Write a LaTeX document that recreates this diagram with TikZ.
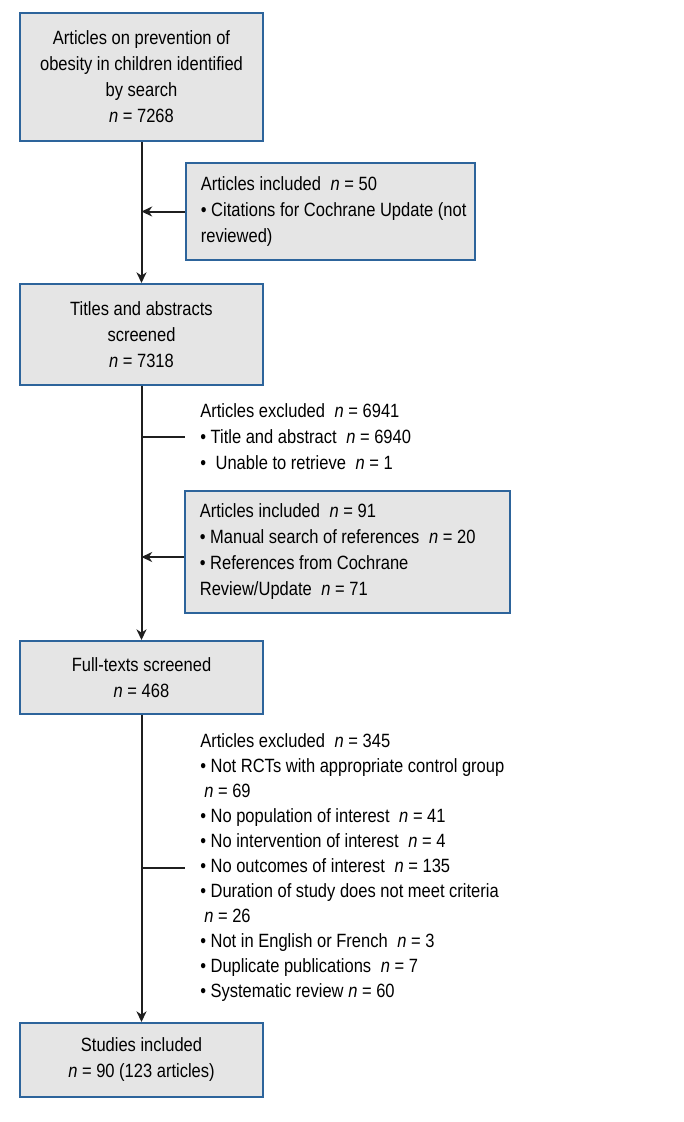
\documentclass[tikz,border=0pt]{standalone}
\usepackage{fontspec}
\setmainfont{Liberation Sans}[FakeStretch=0.86]
\usepackage{tikz}
\usetikzlibrary{arrows.meta, positioning, calc}
\definecolor{boxBlue}{RGB}{45,100,155}
\definecolor{boxGray}{gray}{0.9}
\definecolor{lineBlack}{gray}{0.12}
\newcommand{\nval}[1]{\textit{n} = #1}

\begin{document}
\begin{tikzpicture}[x=0.75pt, y=-0.75pt, >={Stealth[length=8pt, width=7.5pt, inset=2.5pt]},
    font=\fontsize{14.4}{19.5}\selectfont,
    mainbox/.style={draw=boxBlue, line width=1.5pt, fill=boxGray, minimum width=182.25pt,
        align=center, inner sep=0pt},
    sidebox/.style={draw=boxBlue, line width=1.3pt, fill=boxGray, align=flush left,
        text width=#1, inner xsep=11.25pt, inner ysep=0pt, anchor=west},
    exclnote/.style={align=flush left, inner xsep=11.25pt, inner ysep=0pt, anchor=west},
    flow/.style={line width=1.5pt, lineBlack}]
    \useasboundingbox (0,0) rectangle (684,1122);

    % Main column
    \node[mainbox, minimum height=96pt] (search) at (141.5,77)
        {Articles on prevention of\\ obesity in children identified\\ by search\\ \nval{7268}};
    \node[mainbox, minimum height=75.75pt] (titles) at (141.5,334.5)
        {Titles and abstracts\\ screened\\ \nval{7318}};
    \node[mainbox, minimum height=54.75pt] (fulltext) at (141.5,677.5)
        {Full-texts screened\\ \nval{468}};
    \node[mainbox, minimum height=55.5pt] (studies) at (141.5,1060)
        {Studies included\\ \nval{90 (123 articles)}};

    % Side boxes (included)
    \node[sidebox=194.25pt, minimum height=72.75pt] (incl1) at (185,211.5)
        {Articles included\enspace\nval{50}\\ \mbox{\textbullet{} Citations for Cochrane Update (not}\\ reviewed)};
    \node[sidebox=221.25pt, minimum height=91.5pt] (incl2) at (184,552)
        {Articles included\enspace\nval{91}\\ \textbullet{} Manual search of references\enspace\nval{20}\\
         \textbullet{} References from Cochrane\\ Review/Update\enspace\nval{71}};

    % Exclusion notes
    \node[exclnote] (excl1) at (185,436.5)
        {Articles excluded\enspace\nval{6941}\\ \textbullet{} Title and abstract\enspace\nval{6940}\\
         \textbullet\enspace Unable to retrieve\enspace\nval{1}};
    \node[exclnote, font=\fontsize{14.4}{18.8}\selectfont] (excl2) at (185,867.5)
        {Articles excluded\enspace\nval{345}\\
         \textbullet{} Not RCTs with appropriate control group\\
         \hspace{3pt}\nval{69}\\
         \textbullet{} No population of interest\enspace\nval{41}\\
         \textbullet{} No intervention of interest\enspace\nval{4}\\
         \textbullet{} No outcomes of interest\enspace\nval{135}\\
         \textbullet{} Duration of study does not meet criteria\\
         \hspace{3pt}\nval{26}\\
         \textbullet{} Not in English or French\enspace\nval{3}\\
         \textbullet{} Duplicate publications\enspace\nval{7}\\
         \textbullet{} Systematic review \nval{60}};

    % Connectors
    \draw[flow, ->] (search) -- (titles);
    \draw[flow, ->] (titles) -- (fulltext);
    \draw[flow, ->] (fulltext) -- (studies);
    \draw[flow, ->] (incl1.west) -- (incl1.west -| search.south);
    \draw[flow, ->] ([yshift=-3.75pt]incl2.west) -- ([yshift=-3.75pt]incl2.west -| search.south);
    \draw[flow] (excl1.west -| titles.south) -- (excl1.west);
    \draw[flow] (excl2.west -| fulltext.south) -- (excl2.west);
\end{tikzpicture}
\end{document}
